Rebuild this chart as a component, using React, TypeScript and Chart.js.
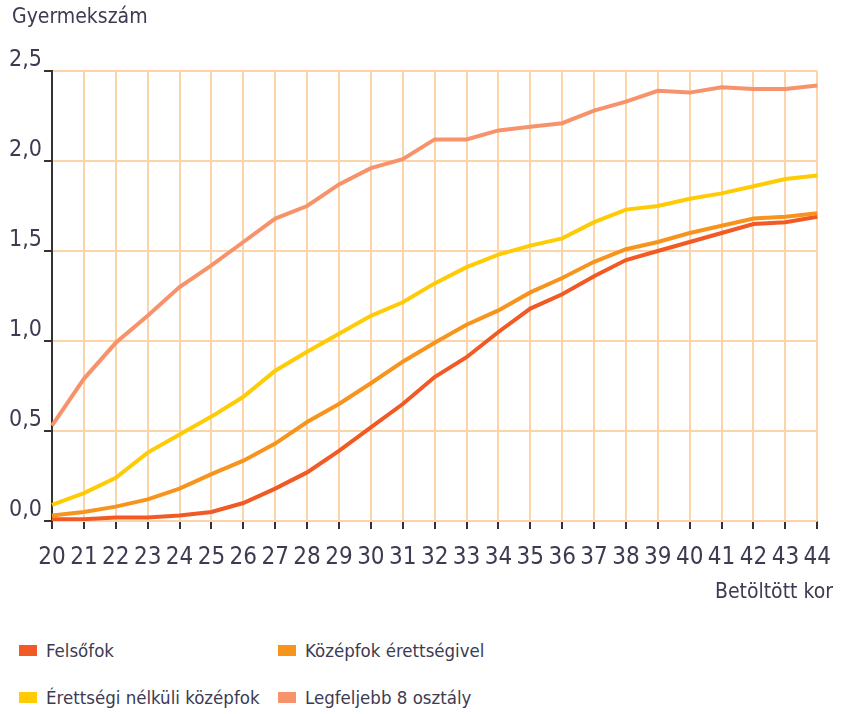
import React, { useEffect, useRef } from "react";
import { Chart, registerables } from "chart.js";

Chart.register(...registerables);

const ages = ["20","21","22","23","24","25","26","27","28","29","30","31","32","33","34","35","36","37","38","39","40","41","42","43","44"];
const felsofok = [0.01,0.01,0.02,0.02,0.03,0.05,0.10,0.18,0.27,0.39,0.52,0.65,0.80,0.91,1.05,1.18,1.26,1.36,1.45,1.50,1.55,1.60,1.65,1.66,1.69];
const kozepfokErettsegivel = [0.03,0.05,0.08,0.12,0.18,0.26,0.335,0.43,0.55,0.65,0.765,0.885,0.99,1.09,1.17,1.27,1.35,1.44,1.51,1.55,1.60,1.64,1.68,1.69,1.71];
const erettsegiNelkuli = [0.09,0.155,0.24,0.38,0.48,0.58,0.69,0.835,0.94,1.04,1.14,1.215,1.32,1.41,1.48,1.53,1.57,1.66,1.73,1.75,1.79,1.82,1.86,1.90,1.92];
const legfeljebb8 = [0.53,0.79,0.99,1.14,1.30,1.42,1.55,1.68,1.75,1.87,1.96,2.01,2.12,2.12,2.17,2.19,2.21,2.28,2.33,2.39,2.38,2.41,2.40,2.40,2.42];
const yTicks = [0, 0.5, 1.0, 1.5, 2.0, 2.5];

const seriesNames = ["Felsőfok", "Középfok érettségivel", "Érettségi nélküli középfok", "Legfeljebb 8 osztály"];
const seriesColors = ["#F15A24", "#F7941D", "#FFCB05", "#F7936B"];

const FONT = "'DejaVu Sans Condensed', 'DejaVu Sans', sans-serif";
const TEXT = "#3c3b52";
const GRID = "#FDD4A9";

export default function App() {
  const ref = useRef<HTMLCanvasElement | null>(null);

  useEffect(() => {
    document.body.style.margin = "0";
    const canvas = ref.current;
    if (!canvas) return;
    const order = [3, 2, 1, 0];
    const dataArr = [felsofok, kozepfokErettsegivel, erettsegiNelkuli, legfeljebb8];
    const chart = new Chart(canvas, {
      type: "line",
      data: {
        labels: ages,
        datasets: order.map((i) => ({
          label: seriesNames[i],
          data: dataArr[i],
          borderColor: seriesColors[i],
          backgroundColor: seriesColors[i],
          borderWidth: 4,
          pointRadius: 0,
          tension: 0,
          fill: false,
        })),
      },
      options: {
        responsive: false,
        animation: false,
        devicePixelRatio: 1,
        layout: { padding: { top: 71, right: 17, left: 0, bottom: 0 } },
        plugins: { legend: { display: false }, tooltip: { enabled: false } },
        scales: {
          x: {
            offset: false,
            grid: { color: GRID, lineWidth: 2, tickColor: "#333", tickLength: 8, drawTicks: true },
            border: { display: false },
            ticks: {
              autoSkip: false,
              maxRotation: 0,
              minRotation: 0,
              padding: 14,
              color: TEXT,
              font: { family: FONT, size: 24, style: "condensed" as any },
            },
            afterFit: (s: any) => { s.height = 79; },
          },
          y: {
            min: 0,
            max: 2.5,
            afterBuildTicks: (s: any) => { s.ticks = yTicks.map((v) => ({ value: v })); },
            grid: { color: GRID, lineWidth: 2, tickColor: "#333", tickLength: 8, drawTicks: true },
            border: { display: true, color: "#333", width: 2 },
            ticks: {
              padding: 2,
              labelOffset: -11,
              color: TEXT,
              font: { family: FONT, size: 23, style: "condensed" as any },
              callback: (v: any) => Number(v).toFixed(1).replace(".", ","),
            },
            afterFit: (s: any) => { s.width = 52; },
          },
        },
      },
    });
    return () => chart.destroy();
  }, []);

  const textStyle = (size: number): React.CSSProperties => ({
    fontFamily: FONT, fontSize: size, color: TEXT, fontStretch: "condensed", whiteSpace: "nowrap",
  });

  const legendItem = (i: number, left: number, top: number) => (
    <div key={i} style={{ position: "absolute", left, top, display: "flex", alignItems: "center", height: 24 }}>
      <div style={{ width: 18, height: 11, background: seriesColors[i], marginRight: 9 }} />
      <span style={textStyle(18.5)}>{seriesNames[i]}</span>
    </div>
  );

  return (
    <div style={{ position: "relative", width: 845, height: 714, background: "#fff", overflow: "hidden" }}>
      <canvas ref={ref} width={845} height={600} style={{ position: "absolute", left: 0, top: 0 }} />
      <div style={{ position: "absolute", left: 12, top: 4, ...textStyle(21) }}>Gyermekszám</div>
      <div style={{ position: "absolute", right: 12, top: 579, ...textStyle(21) }}>Betöltött kor</div>
      {legendItem(0, 19, 638)}
      {legendItem(1, 278, 638)}
      {legendItem(2, 19, 685)}
      {legendItem(3, 278, 685)}
    </div>
  );
}
